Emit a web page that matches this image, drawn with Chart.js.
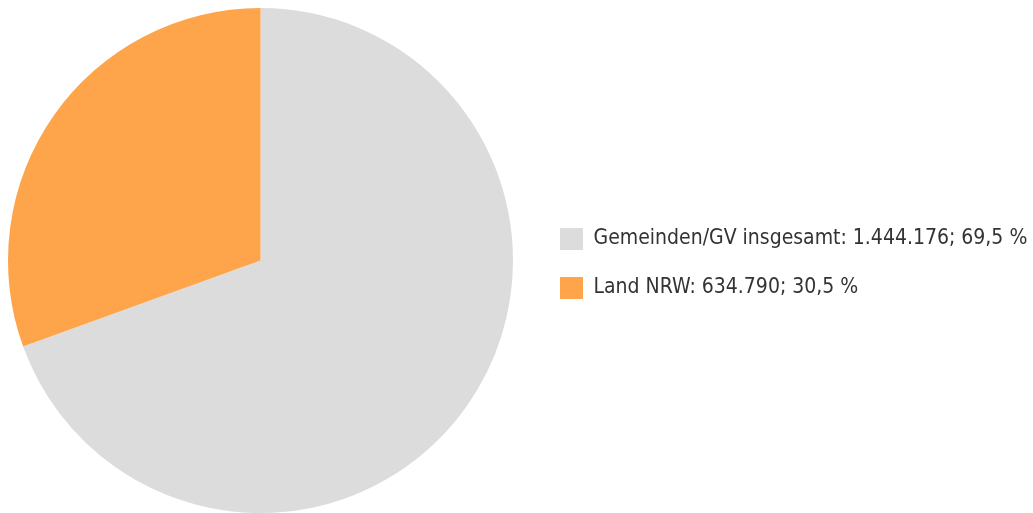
<!DOCTYPE html>
<html>
<head>
<meta charset="utf-8">
<script src="https://cdn.jsdelivr.net/npm/chart.js@4.4.0/dist/chart.umd.min.js"></script>
<style>
  html, body { margin: 0; padding: 0; background: #ffffff; }
  #wrap { width: 1033px; height: 513px; position: relative; }
</style>
</head>
<body>
<div id="wrap"><canvas id="pieChart"></canvas></div>
<script>
const categories = ["Gemeinden/GV insgesamt", "Land NRW"];
const amounts = [1444176, 634790];
const shares = ["69,5", "30,5"];
const sliceColors = ["#dcdcdc", "#fea54c"];

const fontFamily = "'DejaVu Sans Condensed', 'Liberation Sans', sans-serif";

// keep the pie on the left half, then nudge the legend to where it sits in the original
const legendPlace = {
  id: "legendPlace",
  afterInit(chart) {
    const legend = chart.legend;
    const fit = legend.fit;
    legend.fit = function () {
      fit.call(this);
      this.width = 512;
    };
  },
  afterLayout(chart) {
    const legend = chart.legend;
    legend.left += 12;
    legend.right += 12;
    legend.top += 3;
    legend.bottom += 3;
  }
};

const ctx = document.getElementById("pieChart").getContext("2d");
new Chart(ctx, {
  type: "pie",
  data: {
    labels: categories.map((c, i) =>
      `${c}: ${amounts[i].toLocaleString("de-DE")}; ${shares[i]} %`),
    datasets: [{
      data: amounts,
      backgroundColor: sliceColors,
      borderWidth: 0
    }]
  },
  options: {
    responsive: true,
    maintainAspectRatio: false,
    animation: false,
    layout: {
      padding: { top: 8, bottom: 0, left: 0, right: 0 }
    },
    plugins: {
      tooltip: { enabled: false },
      legend: {
        position: "right",
        align: "center",
        labels: {
          boxWidth: 23,
          boxHeight: 22,
          padding: 27,
          color: "#333333",
          font: { family: fontFamily, size: 21 }
        }
      }
    }
  },
  plugins: [legendPlace]
});
</script>
</body>
</html>
